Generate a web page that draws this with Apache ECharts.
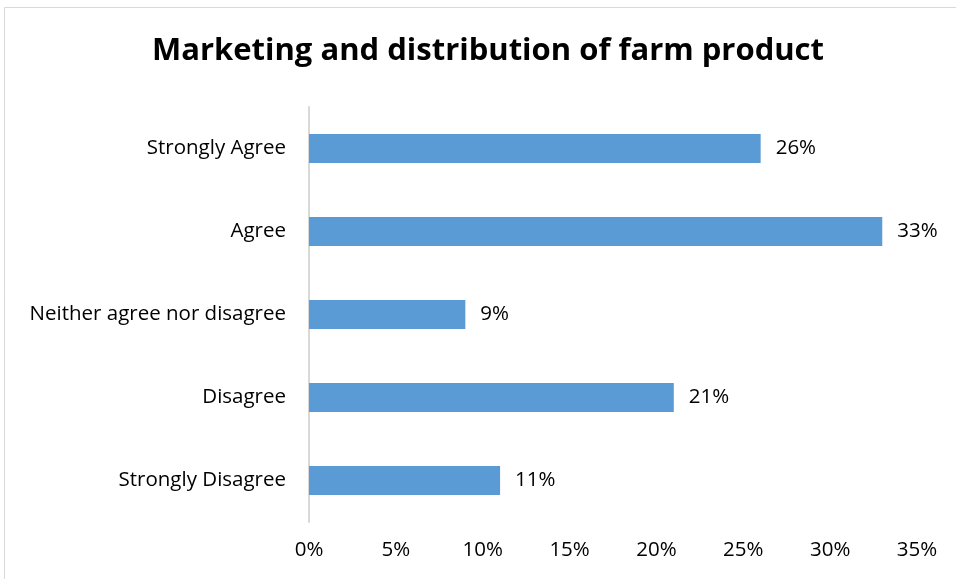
<!DOCTYPE html>
<html><head><meta charset="utf-8">
<script src="https://cdn.jsdelivr.net/npm/echarts@6/dist/echarts.min.js"></script>
<style>html,body{margin:0;padding:0;background:#fff}#c{width:956px;height:579px}</style>
</head><body><div id="c"></div>
<script>
const categories = ['Strongly Agree','Agree','Neither agree nor disagree','Disagree','Strongly Disagree'];
const values = [26, 33, 9, 21, 11];
const xTicks = [0,5,10,15,20,25,30,35];
const FONT = 'Open Sans';
const chart = echarts.init(document.getElementById('c'));
chart.setOption({
  animation:false,
  backgroundColor:'#fff',
  graphic:[{type:'rect',shape:{x:4.5,y:7.5,width:960,height:600},style:{fill:'none',stroke:'#d9d9d9',lineWidth:1}}],
  title:{text:'Marketing and distribution of farm product',left:483,textAlign:'center',top:31,
    textStyle:{fontFamily:FONT,fontWeight:'bold',fontSize:31,color:'#000'}},
  grid:{left:309,right:39,top:107,bottom:57,containLabel:false},
  xAxis:{type:'value',min:0,max:35,interval:5,
    axisLine:{show:false},axisTick:{show:false},splitLine:{show:false},
    axisLabel:{formatter:v=>v+'%',fontFamily:FONT,fontSize:20.5,color:'#000',margin:18}},
  yAxis:{type:'category',data:categories.slice().reverse(),inverse:false,
    axisLine:{show:true,lineStyle:{color:'#d9d9d9',width:2}},axisTick:{show:false},
    axisLabel:{fontFamily:FONT,fontSize:20.5,color:'#000',margin:23}},
  series:[{type:'bar',data:values.slice().reverse(),barWidth:29,
    itemStyle:{color:'#5B9BD5'},
    label:{show:true,position:'right',distance:15,formatter:p=>p.value+'%',fontFamily:FONT,fontSize:20.5,color:'#000'}}]
});
</script></body></html>
